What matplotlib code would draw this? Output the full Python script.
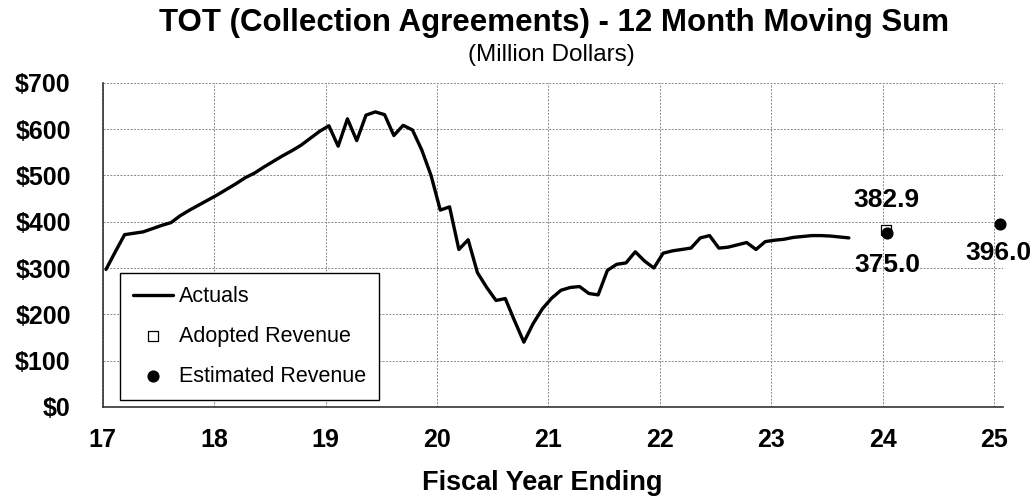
"""TOT (Collection Agreements) - 12 month moving sum chart."""

import numpy as np
from matplotlib import pyplot as plt

plt.rcParams["font.family"] = ["Liberation Sans", "DejaVu Sans"]

# ---------------------------------------------------------------------------
# Data
# ---------------------------------------------------------------------------

start_year = 17.03
actuals = [
    297, 335, 372, 375, 378, 385, 392, 398, 413, 425, 436, 447,
    458, 470, 482, 495, 505, 518, 530, 542, 553, 565, 580, 595,
    607, 563, 622, 575, 630, 637, 631, 586, 608, 598, 555, 500,
    425, 432, 340, 361, 290, 258, 230, 234, 186, 140, 180, 212,
    235, 252, 258, 260, 245, 242, 295, 308, 311, 335, 315, 300,
    332, 337, 340, 343, 365, 370, 343, 345, 350, 355, 340, 357,
    360, 362, 366, 368, 370, 370, 369, 367, 365,
]
actual_years = start_year + np.arange(len(actuals)) / 12

adopted_x = [24.03]
adopted_y = [382.9]
estimated_x = [24.04, 25.05]
estimated_y = [375.0, 396.0]

x_ticks = [17, 18, 19, 20, 21, 22, 23, 24, 25]
y_ticks = [0, 100, 200, 300, 400, 500, 600, 700]

# ---------------------------------------------------------------------------
# Plot
# ---------------------------------------------------------------------------

fig = plt.figure(figsize=(10.34, 4.97), dpi=100)
ax = fig.add_axes([0.0993, 0.1811, 0.8707, 0.6525])

ax.plot(actual_years, actuals, color="black", lw=2.4, label="Actuals",
        solid_joinstyle="round", solid_capstyle="round", zorder=3)
ax.scatter(adopted_x, adopted_y, marker="s", s=55, facecolor="white",
           edgecolor="black", linewidth=0.9, label="Adopted Revenue",
           zorder=4, clip_on=False)
ax.scatter(estimated_x, estimated_y, marker="o", s=60, color="black",
           label="Estimated Revenue", zorder=5, clip_on=False)

# value labels (offset in points from the marker)
label_kw = dict(textcoords="offset points", ha="center", va="center",
                fontsize=19, fontweight="bold")
ax.annotate(f"{adopted_y[0]:.1f}", (adopted_x[0], adopted_y[0]),
            xytext=(0, 21), **label_kw)
ax.annotate(f"{estimated_y[0]:.1f}", (estimated_x[0], estimated_y[0]),
            xytext=(0, -23), **label_kw)
ax.annotate(f"{estimated_y[1]:.1f}", (estimated_x[1], estimated_y[1]),
            xytext=(-1, -21), **label_kw)

ax.set_xlim(17, 25.08)
ax.set_ylim(0, 700)
ax.set_xticks(x_ticks)
ax.set_xticklabels([str(t) for t in x_ticks])
ax.set_yticks(y_ticks)
ax.set_yticklabels([f"${t}" for t in y_ticks])
ax.tick_params(axis="both", length=0, labelsize=18)
ax.tick_params(axis="x", pad=15)
ax.tick_params(axis="y", pad=23)
for lbl in ax.get_xticklabels() + ax.get_yticklabels():
    lbl.set_fontweight("bold")

ax.grid(True, color="#888888", linestyle=(0, (2, 1.5)), linewidth=0.7)
ax.set_axisbelow(True)
for side in ("top", "right"):
    ax.spines[side].set_visible(False)
for side in ("left", "bottom"):
    ax.spines[side].set_color("#333333")
    ax.spines[side].set_linewidth(1.2)

ax.set_xlabel("Fiscal Year Ending", fontsize=19.5, fontweight="bold",
              va="center")
ax.xaxis.set_label_coords(0.488, -0.234)

fig.text(0.536, 0.954, "TOT (Collection Agreements) - 12 Month Moving Sum",
         ha="center", va="center", fontsize=22.5, fontweight="bold")
fig.text(0.533, 0.889, "(Million Dollars)", ha="center", va="center",
         fontsize=17.5)

leg = ax.legend(loc="lower left", bbox_to_anchor=(0.0192, 0.0216),
                borderaxespad=0, fontsize=15.5, frameon=True, fancybox=False,
                edgecolor="black", framealpha=1, handlelength=1.85,
                handletextpad=0.29, borderpad=0.6, labelspacing=0.88)
leg.get_frame().set_linewidth(1.0)

fig.savefig("out.png", dpi=100)
